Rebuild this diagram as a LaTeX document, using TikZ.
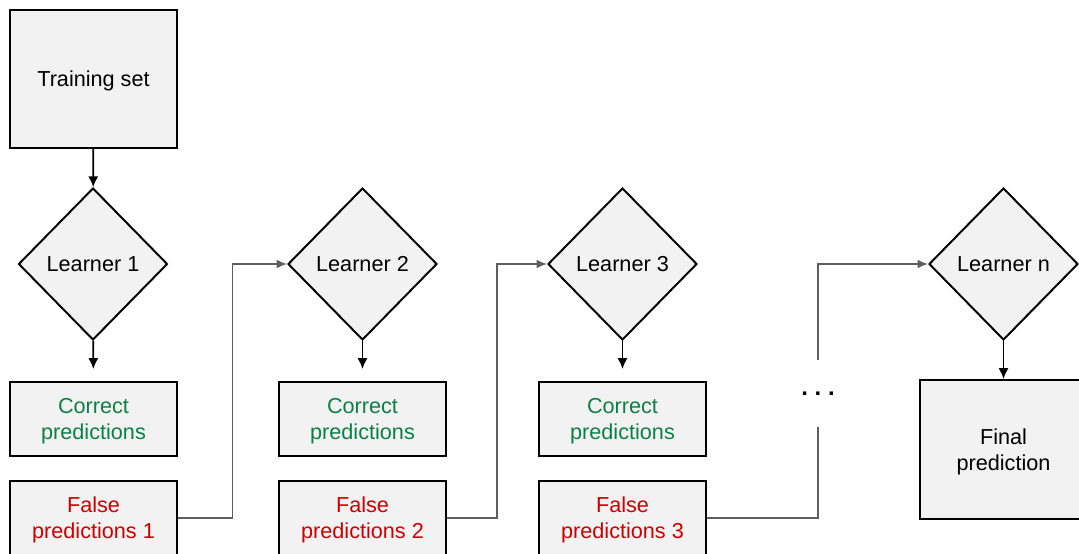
\documentclass[tikz,border=0pt]{standalone}
\usepackage{fontspec}
\setmainfont{Liberation Sans}
\usepackage{xcolor}
\usepackage{tikz}
\usetikzlibrary{calc}
\usetikzlibrary{shapes}
\usetikzlibrary{arrows.meta}
\definecolor{boxfill}{HTML}{F2F2F2}
\definecolor{goodgreen}{HTML}{0B8043}
\definecolor{badred}{HTML}{CC0000}
\definecolor{linkgray}{HTML}{5F5F5F}

\begin{document}
\begin{tikzpicture}[
    font=\fontsize{15.4}{18.5}\selectfont,
    boxnode/.style={draw,line width=1.4pt,fill=boxfill,inner sep=0pt,align=center,text depth=0pt,minimum width=4.175cm},
    learnernode/.style={draw,diamond,aspect=1,line width=1.4pt,fill=boxfill,inner sep=0pt,minimum width=3.725cm,minimum height=3.8cm},
    flow/.style={-{Latex[length=2.7mm,width=2.5mm]},line width=1.2pt},
    link/.style={-{Latex[length=2.6mm,width=2.2mm]},line width=1.1pt,draw=linkgray}]
  \useasboundingbox (0,0) rectangle (26.975,-13.85);
  \clip (0,0) rectangle (26.975,-13.85);

  \draw ( 2.3375,-1.975) node[boxnode,minimum height=3.45cm](T) {Training set};

  \draw ( 2.325,-6.6)   node[learnernode](L1) {Learner 1};
  \draw ( 9.0625,-6.6)  node[learnernode](L2) {Learner 2};
  \draw (15.5625,-6.6)  node[learnernode](L3) {Learner 3};
  \draw (25.0875,-6.6)  node[learnernode](Ln) {Learner n};

  \draw ( 2.3375,-10.475) node[boxnode,minimum height=1.85cm,text=goodgreen](C1) {Correct\\predictions};
  \draw ( 9.0625,-10.475) node[boxnode,minimum height=1.85cm,text=goodgreen](C2) {Correct\\predictions};
  \draw (15.5625,-10.475) node[boxnode,minimum height=1.85cm,text=goodgreen](C3) {Correct\\predictions};

  \draw ( 2.3375,-12.95) node[boxnode,minimum height=1.85cm,text=badred](F1) {False\\predictions 1};
  \draw ( 9.0625,-12.95) node[boxnode,minimum height=1.85cm,text=badred](F2) {False\\predictions 2};
  \draw (15.5625,-12.95) node[boxnode,minimum height=1.85cm,text=badred](F3) {False\\predictions 3};

  \draw (25.0875,-11.2375) node[boxnode,minimum height=3.475cm](P) {Final\\prediction};

  \draw (20.45,-9.84) node[minimum height=1.675cm,inner sep=0pt,font=\fontsize{17}{20}\bfseries](D) {.\hspace{4.8pt}.\hspace{4.8pt}.};

  \draw[flow] (T) -- (L1);
  \draw[flow,shorten >=0.3cm] (L1) -- (C1);
  \draw[flow,shorten >=0.3cm] (L2) -- (C2);
  \draw[flow,shorten >=0.3cm] (L3) -- (C3);
  \draw[flow] (Ln) -- (P);

  \draw[link] (F1.east) -| ($(F1.east)!0.5!(L2.west)$) |- (L2.west);
  \draw[link] (F2.east) -| ($(F2.east)!0.5!(L3.west)$) |- (L3.west);
  \draw[link,-] (F3.east) -| (D.south);
  \draw[link] (D.north) |- (Ln.west);

\end{tikzpicture}
\end{document}
